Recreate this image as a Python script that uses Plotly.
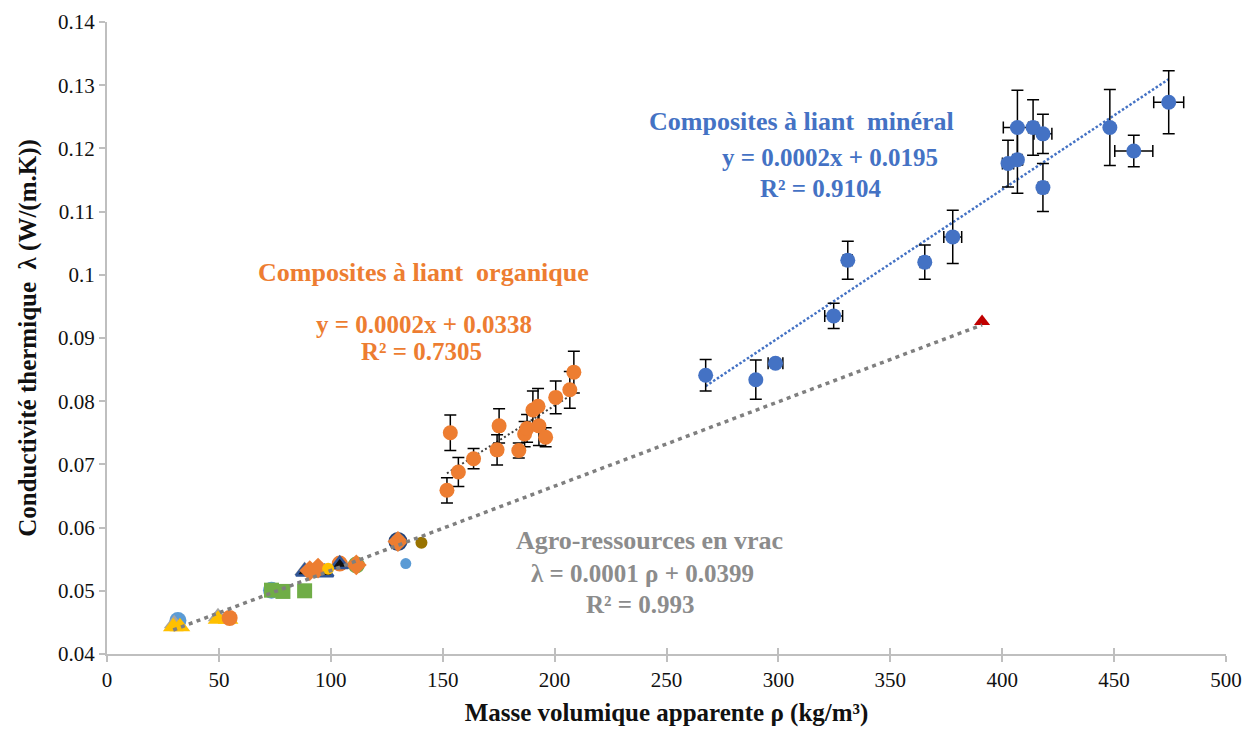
import numpy as np
import plotly.graph_objects as go

# ---------------- Composites à liant minéral (density, conductivity, errors)
min_rho = [267.5, 289.9, 298.7, 324.7, 331.0, 365.4, 377.9, 402.6, 406.8, 406.8,
           413.8, 418.2, 418.2, 448.1, 458.8, 474.4]
min_lam = [0.0841, 0.0834, 0.0860, 0.0935, 0.1023, 0.1020, 0.1060, 0.1176, 0.1182, 0.1233,
           0.1233, 0.1223, 0.1138, 0.1233, 0.1196, 0.1273]
min_err_rho = [0.0, 0.0, 3.3, 4.0, 2.0, 2.0, 4.0, 2.5, 2.0, 6.3,
               2.0, 4.0, 2.0, 0.0, 8.5, 6.7]
min_err_lam = [0.0025, 0.0031, 0.0004, 0.0020, 0.0030, 0.0027, 0.0042, 0.0037, 0.0053, 0.0059,
               0.0044, 0.0031, 0.0038, 0.0060, 0.0025, 0.0050]

# ---------------- Composites à liant organique
org_rho = [153.4, 151.9, 157.0, 163.8, 175.2, 174.3, 184.0, 186.6, 187.7, 190.3,
           192.6, 193.0, 196.0, 200.5, 206.8, 208.6]
org_lam = [0.0750, 0.0659, 0.0688, 0.0709, 0.0761, 0.0723, 0.0722, 0.0748, 0.0757, 0.0786,
           0.0792, 0.0761, 0.0743, 0.0806, 0.0818, 0.0846]
org_err_lam = [0.0028, 0.0020, 0.0023, 0.0016, 0.0027, 0.0024, 0.0012, 0.0020, 0.0022, 0.0030,
               0.0028, 0.0031, 0.0015, 0.0026, 0.0029, 0.0033]

# ---------------- Agro-ressources en vrac (one group per resource)
lb_rho, lb_lam = [31.7, 73.5], [0.0453, 0.0501]                 # light blue circles
gr_tri_rho, gr_tri_lam = [30.0, 49.6, 88.3], [0.0448, 0.0459, 0.0532]  # grey triangles
ye_tri_rho = [29.6, 32.6, 49.6, 54.1]
ye_tri_lam = [0.0443, 0.0443, 0.0455, 0.0455]                  # yellow triangles
or_c_rho, or_c_lam = [54.8, 104.0], [0.0457, 0.0543]           # orange circles
gn_sq_rho, gn_sq_lam = [73.5, 78.6, 88.3], [0.0501, 0.0499, 0.0500]  # green squares
bk_tri_rho, bk_tri_lam = [88.3, 97.3, 104.0], [0.0530, 0.0529, 0.0542]  # black triangles
or_d_rho, or_d_lam = [90.6, 94.3, 111.4, 130.0], [0.0532, 0.0536, 0.0541, 0.0578]  # orange diamonds
ye_c_rho, ye_c_lam = [98.8], [0.0535]                           # yellow circle
gn_c_rho, gn_c_lam = [111.4], [0.0541]                          # green circle
db_c_rho, db_c_lam = [130.0], [0.0578]                          # blue circle, dark rim
ol_c_rho, ol_c_lam = [140.5], [0.0576]                          # olive circle
sb_c_rho, sb_c_lam = [133.5], [0.0543]                          # small blue circle
rd_tri_rho, rd_tri_lam = [391.0], [0.0926]                      # red triangle

x_ticks = [0, 50, 100, 150, 200, 250, 300, 350, 400, 450, 500]
y_ticks = [0.04, 0.05, 0.06, 0.07, 0.08, 0.09, 0.10, 0.11, 0.12, 0.13, 0.14]
y_labels = ["0.04", "0.05", "0.06", "0.07", "0.08", "0.09", "0.1", "0.11", "0.12", "0.13", "0.14"]

SERIF = "Liberation Serif, Times New Roman, Times, serif"
BLUE, ORANGE, GREY = "#4472C4", "#ED7D31", "#7F7F7F"

fig = go.Figure()


def trend(xs, ys, color, width, dash):
    xs, ys = np.asarray(xs), np.asarray(ys)
    a, b = np.polyfit(xs, ys, 1)
    xl = np.array([xs.min(), xs.max()])
    fig.add_trace(go.Scatter(x=xl, y=a * xl + b, mode="lines",
                             line=dict(color=color, width=width, dash=dash),
                             hoverinfo="skip", showlegend=False))


def pts(xs, ys, color, symbol="circle", size=13, line_color=None, line_width=0):
    fig.add_trace(go.Scatter(
        x=xs, y=ys, mode="markers", showlegend=False,
        marker=dict(color=color, symbol=symbol, size=size,
                    line=dict(color=line_color or color, width=line_width))))


# bulk agro-resources trend line (all bulk groups together)
bulk_rho = (lb_rho + gr_tri_rho + ye_tri_rho + or_c_rho + gn_sq_rho + bk_tri_rho + or_d_rho
            + ye_c_rho + gn_c_rho + db_c_rho + ol_c_rho + sb_c_rho + rd_tri_rho)
bulk_lam = (lb_lam + gr_tri_lam + ye_tri_lam + or_c_lam + gn_sq_lam + bk_tri_lam + or_d_lam
            + ye_c_lam + gn_c_lam + db_c_lam + ol_c_lam + sb_c_lam + rd_tri_lam)

# bulk markers
pts(lb_rho, lb_lam, "#5B9BD5", size=17)
pts(gr_tri_rho, gr_tri_lam, "#A5A5A5", "triangle-up", 18)
pts(ye_tri_rho, ye_tri_lam, "#FFC000", "triangle-up", 18)
pts(or_c_rho, or_c_lam, ORANGE, size=16)
pts(gn_c_rho, gn_c_lam, "#70AD47", size=17)
pts(db_c_rho, db_c_lam, "#5B9BD5", size=17, line_color="#264478", line_width=2)
pts(gn_sq_rho, gn_sq_lam, "#70AD47", "square", 15)
pts(bk_tri_rho, bk_tri_lam, "#111111", "triangle-up", 15, line_color="#2F5597", line_width=2.5)
pts(or_d_rho, or_d_lam, ORANGE, "diamond", 16)
pts(ye_c_rho, ye_c_lam, "#FFC000", size=12)
pts(ol_c_rho, ol_c_lam, "#997300", size=12)
pts(sb_c_rho, sb_c_lam, "#5B9BD5", size=11)
pts(rd_tri_rho, rd_tri_lam, "#C00000", "triangle-up", 14)

trend(bulk_rho, bulk_lam, GREY, 3.5, "4px,4.3px")

# organic-binder composites
trend(org_rho, org_lam, "#404040", 2, "2px,2.5px")
fig.add_trace(go.Scatter(
    x=org_rho, y=org_lam, mode="markers", showlegend=False,
    marker=dict(color=ORANGE, size=15),
    error_y=dict(type="data", array=org_err_lam, color="black", thickness=1.5, width=6)))

# mineral-binder composites
trend(min_rho, min_lam, BLUE, 2.5, "2.5px,2px")
fig.add_trace(go.Scatter(
    x=min_rho, y=min_lam, mode="markers", showlegend=False,
    marker=dict(color=BLUE, size=15),
    error_y=dict(type="data", array=min_err_lam, color="black", thickness=1.5, width=6),
    error_x=dict(type="data", array=min_err_rho, color="black", thickness=1.5, width=6)))

# group labels and fitted equations
labels = [
    (310.5, 0.1242, "Composites à liant  minéral", BLUE, 26),
    (323.0, 0.1186, "y = 0.0002x + 0.0195", BLUE, 25),
    (319.0, 0.1137, "R² = 0.9104", BLUE, 25),
    (141.6, 0.1003, "Composites à liant  organique", ORANGE, 26),
    (141.6, 0.0922, "y = 0.0002x + 0.0338", ORANGE, 25),
    (140.7, 0.0879, "R² = 0.7305", ORANGE, 25),
    (242.6, 0.0579, "Agro-ressources en vrac", "#8C8C8C", 26),
    (239.1, 0.0528, "λ = 0.0001 ρ + 0.0399", "#8C8C8C", 25),
    (238.6, 0.0479, "R² = 0.993", "#8C8C8C", 25),
]
for x, y, t, c, s in labels:
    fig.add_annotation(x=x, y=y, text=t, showarrow=False, xanchor="center", yanchor="middle",
                       font=dict(family=SERIF, size=s, color=c, weight="bold"))

axis_common = dict(showgrid=False, zeroline=False, showline=True, linecolor="#BFBFBF",
                   linewidth=2, tickcolor="#BFBFBF", tickwidth=1.5, ticklen=6,
                   automargin=False,
                   tickfont=dict(family=SERIF, size=21, color="#111111"))

fig.update_layout(
    width=1246, height=731,
    margin=dict(l=107, r=20, t=22, b=77),
    paper_bgcolor="white", plot_bgcolor="white",
    showlegend=False,
    font=dict(family=SERIF),
    xaxis=dict(range=[0, 500], tickvals=x_ticks, ticks="outside", **axis_common,
               title=dict(text="Masse volumique apparente ρ (kg/m³)", standoff=12,
                          font=dict(family=SERIF, size=25, color="#111111", weight="bold"))),
    xaxis2=dict(range=[0, 500], overlaying="x", anchor="y", matches="x", tickvals=x_ticks,
                ticks="inside", ticklen=6, tickwidth=1.5, tickcolor="#BFBFBF",
                showticklabels=False, showline=False, showgrid=False, zeroline=False),
    yaxis=dict(range=[0.04, 0.14], tickvals=y_ticks, ticktext=y_labels, ticks="outside",
               **axis_common,
               title=dict(text="Conductivité thermique  λ (W/(m.K))", standoff=14,
                          font=dict(family=SERIF, size=25, color="#111111", weight="bold"))),
)
# invisible trace so the overlay axis is drawn
fig.add_trace(go.Scatter(x=[0], y=[0.04], xaxis="x2", mode="markers",
                         marker=dict(opacity=0), hoverinfo="skip", showlegend=False))

fig.write_html("out.html")
